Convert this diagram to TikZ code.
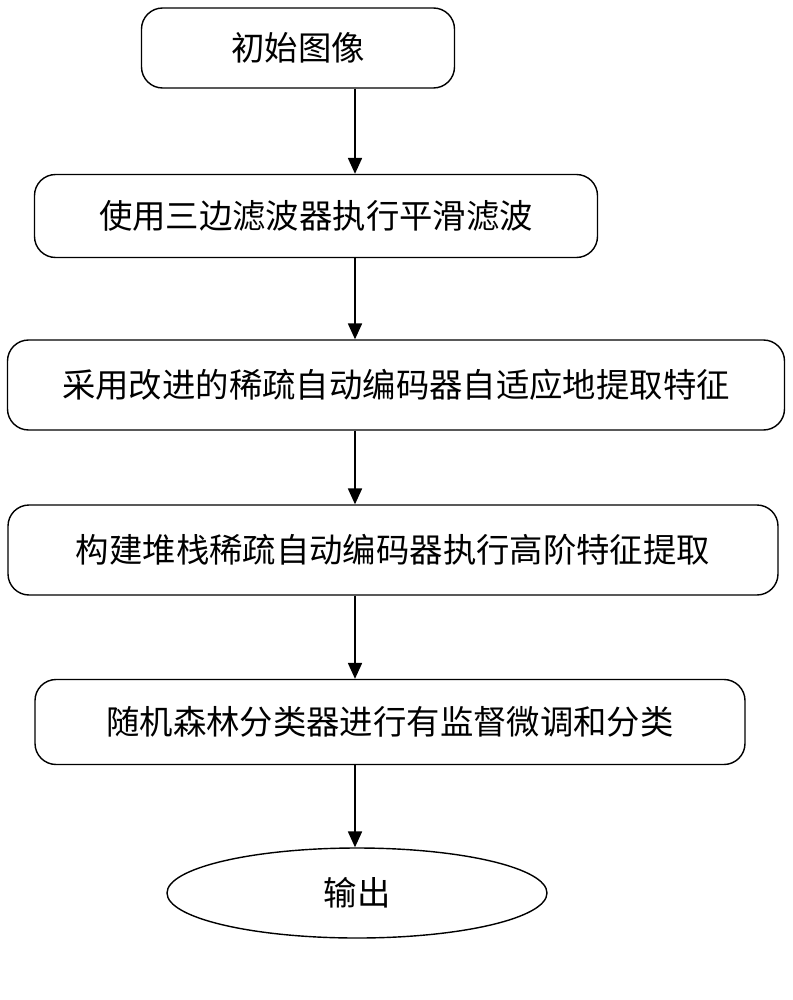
\documentclass[tikz,border=0pt]{standalone}
\usepackage{fontspec}
\newfontfamily\cjk{Noto Sans CJK SC}
\usetikzlibrary{shapes.geometric}
\usetikzlibrary{arrows.meta}
\tikzset{stage/.style = {draw, thick, rounded corners=12pt, font=\cjk\fontsize{19}{22}\selectfont, inner sep=0pt}}
\tikzset{flow/.style = {thick, -{Triangle[length=9pt,width=8pt]}}}

\begin{document}
\begin{tikzpicture}[x=0.02cm, y=-0.02cm]
                    \useasboundingbox (0,0) rectangle (793,1000);
                    \coordinate (ax) at (355,0);
                    \node[stage, minimum width=313*0.02cm, minimum height=80*0.02cm] (start) at (298,48) {初始图像};
                    \node[stage, minimum width=563*0.02cm, minimum height=83*0.02cm] (smooth) at (316,216) {使用三边滤波器执行平滑滤波};
                    \node[stage, minimum width=777*0.02cm, minimum height=90*0.02cm] (feat) at (396,385) {采用改进的稀疏自动编码器自适应地提取特征};
                    \node[stage, minimum width=770*0.02cm, minimum height=90*0.02cm] (stack) at (393,550) {构建堆栈稀疏自动编码器执行高阶特征提取};
                    \node[stage, minimum width=710*0.02cm, minimum height=85*0.02cm] (forest) at (390,722) {随机森林分类器进行有监督微调和分类};
                    \node[draw, thick, ellipse, minimum width=380*0.02cm, minimum height=90*0.02cm, font=\cjk\fontsize{19}{22}\selectfont] (out) at (357,893) {输出};

                    \draw[flow] (start.south -| ax) -- (smooth.north -| ax);
                    \draw[flow] (smooth.south -| ax) -- (feat.north -| ax);
                    \draw[flow] (feat.south -| ax) -- (stack.north -| ax);
                    \draw[flow] (stack.south -| ax) -- (forest.north -| ax);
                    \draw[flow] (forest.south -| ax) -- (out.north -| ax);
                \end{tikzpicture}
\end{document}
